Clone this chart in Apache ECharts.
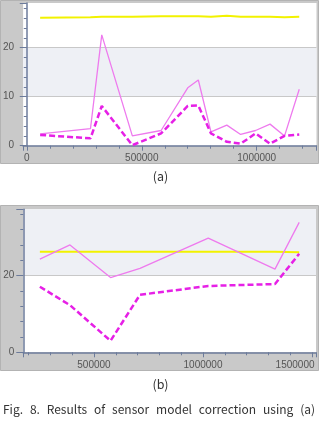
<!DOCTYPE html>
<html>
<head>
<meta charset="utf-8">
<script src="https://cdn.jsdelivr.net/npm/echarts@6/dist/echarts.min.js"></script>
<style>
  html, body { margin: 0; padding: 0; background: #fff; }
  #chart { width: 322px; height: 421px; }
</style>
</head>
<body>
<div id="chart"></div>
<script>
// --- panel (a) ---
const xA = [58000, 277000, 326000, 459000, 584000, 700000, 746000, 801000, 870000, 930000, 995000, 1058000, 1121000, 1185000];
const refA = [26.1, 26.2, 26.3, 26.3, 26.4, 26.4, 26.4, 26.3, 26.5, 26.3, 26.3, 26.3, 26.2, 26.3];
const beforeA = [2.4, 3.5, 22.6, 2.0, 3.1, 11.8, 13.4, 2.8, 4.2, 2.3, 3.1, 4.4, 2.0, 11.5];
const afterA = [2.2, 1.5, 8.1, 0.1, 2.5, 8.1, 8.2, 2.5, 0.8, 0.4, 2.5, 0.4, 2.0, 2.3];
const bandA = [10, 20];

// --- panel (b) ---
const xB = [252000, 390000, 576000, 711000, 1024000, 1330000, 1441000];
const refB = [26.2, 26.2, 26.2, 26.2, 26.2, 26.2, 26.1];
const beforeB = [24.3, 28.0, 19.5, 21.9, 29.8, 21.7, 33.9];
const afterB = [17.1, 12.3, 3.0, 15.0, 17.3, 17.8, 25.7];
const bandB = [20, 37.3];

const captionA = '(a)';
const captionB = '(b)';
const figCaption = 'Fig. 8. Results of sensor model correction using (a)';

const axisColor = '#6c7b9b';
const labelStyle = { color: '#555', fontSize: 10, fontFamily: 'Liberation Sans' };

function pair(xs, ys) {
  return xs.map((x, i) => [x, ys[i]]);
}

function xAxisFor(gridIndex, min, max) {
  return {
    type: 'value', gridIndex, min, max, splitNumber: 3, z: 1.5,
    axisLine: { show: true, onZero: false, lineStyle: { color: axisColor, width: 1.5 } },
    axisTick: { show: true, length: 5, lineStyle: { color: axisColor } },
    minorTick: { show: true, splitNumber: 5, length: 3, lineStyle: { color: axisColor } },
    axisLabel: {
      ...labelStyle, margin: 8,
      // the last label is pulled left so it stays inside the frame
      formatter: v => (v % 500000 !== 0 ? '' : (v + 50000 > max ? '{r|' + v + '}' : String(v))),
      rich: { r: { ...labelStyle, padding: [0, 34, 0, 0] } }
    },
    splitLine: { show: false }
  };
}

function yAxisFor(gridIndex, max, interval) {
  return {
    type: 'value', gridIndex, min: 0, max, interval, z: 1.5,
    axisLine: { show: true, lineStyle: { color: axisColor, width: 1.5 } },
    axisTick: { show: true, length: 7, lineStyle: { color: axisColor } },
    minorTick: { show: true, splitNumber: 5, length: 3, lineStyle: { color: axisColor } },
    axisLabel: { ...labelStyle, margin: 9, formatter: v => (v % interval === 0 ? String(v) : '') },
    splitLine: { show: true, showMinLine: false, showMaxLine: false, lineStyle: { color: '#c8c8c8' } },
    splitArea: { show: false }
  };
}

function panelSeries(idx, xs, ref, before, after, band) {
  const base = { type: 'line', xAxisIndex: idx, yAxisIndex: idx, symbol: 'none', silent: true };
  return [
    {
      ...base, z: 1, data: [],
      markArea: { silent: true, itemStyle: { color: '#eef0f5' }, data: [[{ yAxis: band[0] }, { yAxis: band[1] }]] }
    },
    { ...base, data: pair(xs, ref), lineStyle: { color: '#f2f200', width: 2 } },
    { ...base, data: pair(xs, before), lineStyle: { color: '#ee7aee', width: 1.3 } },
    { ...base, data: pair(xs, after), lineStyle: { color: '#e620e6', width: 2.5, type: [6, 3] } }
  ];
}

// frames + captions
const graphic = [
  { type: 'rect', z: -10, shape: { x: 0.5, y: 0.5, width: 318, height: 163 }, style: { fill: '#c9c9c9', stroke: '#b3b3b3', lineWidth: 1 } },
  { type: 'rect', z: -10, shape: { x: 0.5, y: 205.5, width: 318, height: 165 }, style: { fill: '#c9c9c9', stroke: '#b3b3b3', lineWidth: 1 } }
];
const capFont = '12.5px "Noto Sans CJK KR"';
[[captionA, 176.5], [captionB, 384.5]].forEach(([t, y]) => {
  graphic.push({ type: 'text', style: { text: t, x: 160.5, y, fill: '#333', font: capFont, textAlign: 'center', textVerticalAlign: 'middle', align: 'center', verticalAlign: 'middle' } });
});

// justified figure caption
const figFont = '12px "Noto Sans CJK KR"';
const ctx = document.createElement('canvas').getContext('2d');
ctx.font = figFont;
const words = figCaption.split(' ');
const widths = words.map(w => ctx.measureText(w).width);
const total = widths.reduce((a, b) => a + b, 0);
const capLeft = 3, capRight = 315;
const gap = (capRight - capLeft - total) / (words.length - 1);
let cx = capLeft;
words.forEach((w, i) => {
  graphic.push({ type: 'text', style: { text: w, x: cx, y: 409.5, fill: '#333', font: figFont, textAlign: 'left', textVerticalAlign: 'middle', align: 'left', verticalAlign: 'middle' } });
  cx += widths[i] + gap;
});

const chart = echarts.init(document.getElementById('chart'));
chart.setOption({
  animation: false,
  grid: [
    { left: 23, top: 3, width: 293.5, height: 142.7, show: true, backgroundColor: '#fff', borderWidth: 0 },
    { left: 23.3, top: 209.3, width: 292.7, height: 143, show: true, backgroundColor: '#fff', borderWidth: 0 }
  ],
  xAxis: [xAxisFor(0, -16000, 1260000), xAxisFor(1, 176000, 1518000)],
  yAxis: [yAxisFor(0, 29.1, 10), yAxisFor(1, 37.3, 20)],
  series: [
    ...panelSeries(0, xA, refA, beforeA, afterA, bandA),
    ...panelSeries(1, xB, refB, beforeB, afterB, bandB)
  ],
  graphic
});
</script>
</body>
</html>
